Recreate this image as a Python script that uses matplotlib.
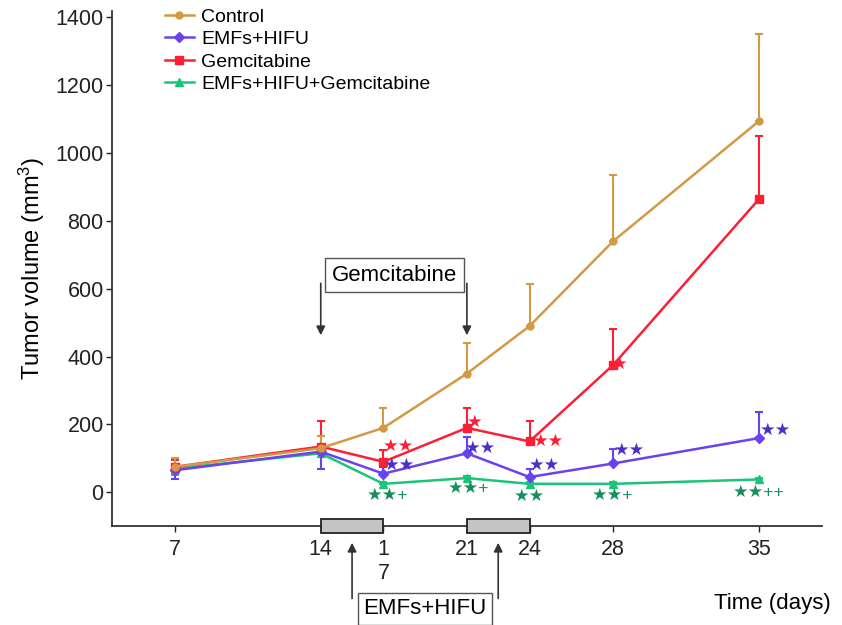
import matplotlib
matplotlib.use("Agg")
import matplotlib.pyplot as plt
from matplotlib.patches import Rectangle
from matplotlib.lines import Line2D
import matplotlib.transforms as mtransforms

plt.rcParams['font.family'] = ['Liberation Sans', 'DejaVu Sans']
plt.rcParams['mathtext.default'] = 'regular'

days = [7, 14, 17, 21, 24, 28, 35]
tick_labels = ['7', '14', '1\n7', '21', '24', '28', '35']

control = [75, 130, 190, 350, 490, 740, 1095]
control_up = [25, 35, 60, 90, 125, 195, 255]
control_lo = [0, 0, 0, 0, 0, 0, 0]

emfs = [65, 120, 55, 115, 45, 85, 160]
emfs_up = [10, 5, 20, 47, 23, 42, 76]
emfs_lo = [25, 50, 0, 0, 0, 0, 0]

gem = [75, 135, 90, 190, 150, 375, 865]
gem_up = [20, 75, 35, 60, 60, 107, 185]
gem_lo = [0, 0, 0, 0, 0, 0, 0]

combo = [70, 115, 25, 42, 25, 25, 38]
combo_up = [5, 5, 5, 5, 5, 5, 5]
combo_lo = [20, 0, 0, 0, 0, 0, 0]

labels = ['Control', 'EMFs+HIFU', 'Gemcitabine', 'EMFs+HIFU+Gemcitabine']
colors = ['#D39A45', '#6A42F0', '#FF1F35', '#1CC47A']
star_colors = ['#D39A45', '#4B2FC8', '#FF1F35', '#178F5A']
markers = ['o', 'D', 's', '^']
msizes = [5, 5.5, 5.5, 6]

# significance marks
sig_day = [17, 21, 24, 28, 35]
sig_gem = ['★★', '★', '★★', '★', '']
sig_emfs = ['★★', '★★', '★★', '★★', '★★']
sig_combo = ['★★+', '★★+', '★★', '★★+', '★★++']
# label placement offsets (days, value units) relative to the data point
gem_off = [(0.72, 46), (0.38, 16), (0.9, 0), (0.33, 3), (0, 0)]
emfs_off = [(0.75, 25), (0.67, 15), (0.7, 35), (0.8, 39), (0.77, 23)]
combo_off = [(0.2, -34), (0.1, -30), (0.0, -37), (0.0, -34), (0.0, -38)]

fig = plt.figure(figsize=(8.42, 6.25), dpi=100)
ax = fig.add_axes([0.133, 0.158, 0.843, 0.825])

series = [(control, control_lo, control_up), (emfs, emfs_lo, emfs_up),
          (gem, gem_lo, gem_up), (combo, combo_lo, combo_up)]
order = [3, 1, 2, 0]
for i in order:
    vals, lo, up = series[i]
    ax.errorbar(days, vals, yerr=[lo, up], color=colors[i], marker=markers[i],
                markersize=msizes[i], linewidth=1.8, ecolor=colors[i],
                elinewidth=1.5, capsize=3, capthick=1.5)

ax.set_xlim(4, 38)
ax.set_ylim(-100, 1420)
ax.set_xticks(days)
ax.set_xticklabels(tick_labels)
ax.set_yticks(range(0, 1401, 200))
ax.tick_params(labelsize=15.5, length=4, width=1, colors='#222222')
ax.tick_params(axis='x', pad=5)
ax.tick_params(axis='y', pad=2)
for s in ['top', 'right']:
    ax.spines[s].set_visible(False)
for s in ['left', 'bottom']:
    ax.spines[s].set_linewidth(1.3)
    ax.spines[s].set_color('#333333')

ax.set_ylabel('Tumor volume (mm$^3$)', fontsize=17, labelpad=6)
fig.text(0.848, 0.035, 'Time (days)', fontsize=16, ha='left', va='center')

handles = [Line2D([], [], color=colors[i], marker=markers[i], markersize=msizes[i],
                  linewidth=1.8) for i in range(4)]
ax.legend(handles, labels, loc='upper left', bbox_to_anchor=(0.074, 1.005),
          frameon=False, fontsize=14, handlelength=1.5, handletextpad=0.4,
          labelspacing=0.25, borderaxespad=0, borderpad=0)

fs = 12.5
for k, (d, t) in enumerate(zip(sig_day, sig_gem)):
    if t:
        j = days.index(d)
        ax.text(d + gem_off[k][0], gem[j] + gem_off[k][1], t, color=star_colors[2],
                fontsize=fs, ha='center', va='center')
for k, (d, t) in enumerate(zip(sig_day, sig_emfs)):
    j = days.index(d)
    ax.text(d + emfs_off[k][0], emfs[j] + emfs_off[k][1], t, color=star_colors[1],
            fontsize=fs, ha='center', va='center')
for k, (d, t) in enumerate(zip(sig_day, sig_combo)):
    j = days.index(d)
    ax.text(d + combo_off[k][0], combo[j] + combo_off[k][1], t, color=star_colors[3],
            fontsize=fs, ha='center', va='center')

# Gemcitabine annotation
ax.text(17.52, 640, 'Gemcitabine', fontsize=16, ha='center', va='center',
        bbox=dict(boxstyle='square,pad=0.3', fc='white', ec='#555555', lw=1))
for d in [14, 21]:
    ax.annotate('', xy=(d, 463), xytext=(d, 616),
                arrowprops=dict(arrowstyle='-|>', color='#333333', lw=1.2,
                                mutation_scale=13, shrinkA=0, shrinkB=0))

# treatment boxes on x axis
trans = mtransforms.blended_transform_factory(ax.transData, ax.transAxes)
for x0, x1 in [(14, 17), (21, 24)]:
    r = Rectangle((x0, -0.014), x1 - x0, 0.029, transform=trans, clip_on=False,
                  fc='#C4C4C4', ec='#222222', lw=1.3, zorder=5)
    ax.add_patch(r)

# EMFs+HIFU annotation below axis
for d in [15.5, 22.5]:
    ax.annotate('', xy=(d, -0.032), xytext=(d, -0.14), xycoords=trans, textcoords=trans,
                arrowprops=dict(arrowstyle='-|>', color='#333333', lw=1.2,
                                mutation_scale=13, shrinkA=0, shrinkB=0),
                annotation_clip=False)
fig.text(0.505, 0.026, 'EMFs+HIFU', fontsize=16, ha='center', va='center',
         bbox=dict(boxstyle='square,pad=0.25', fc='white', ec='#555555', lw=1))

fig.savefig('out.png', dpi=100)
